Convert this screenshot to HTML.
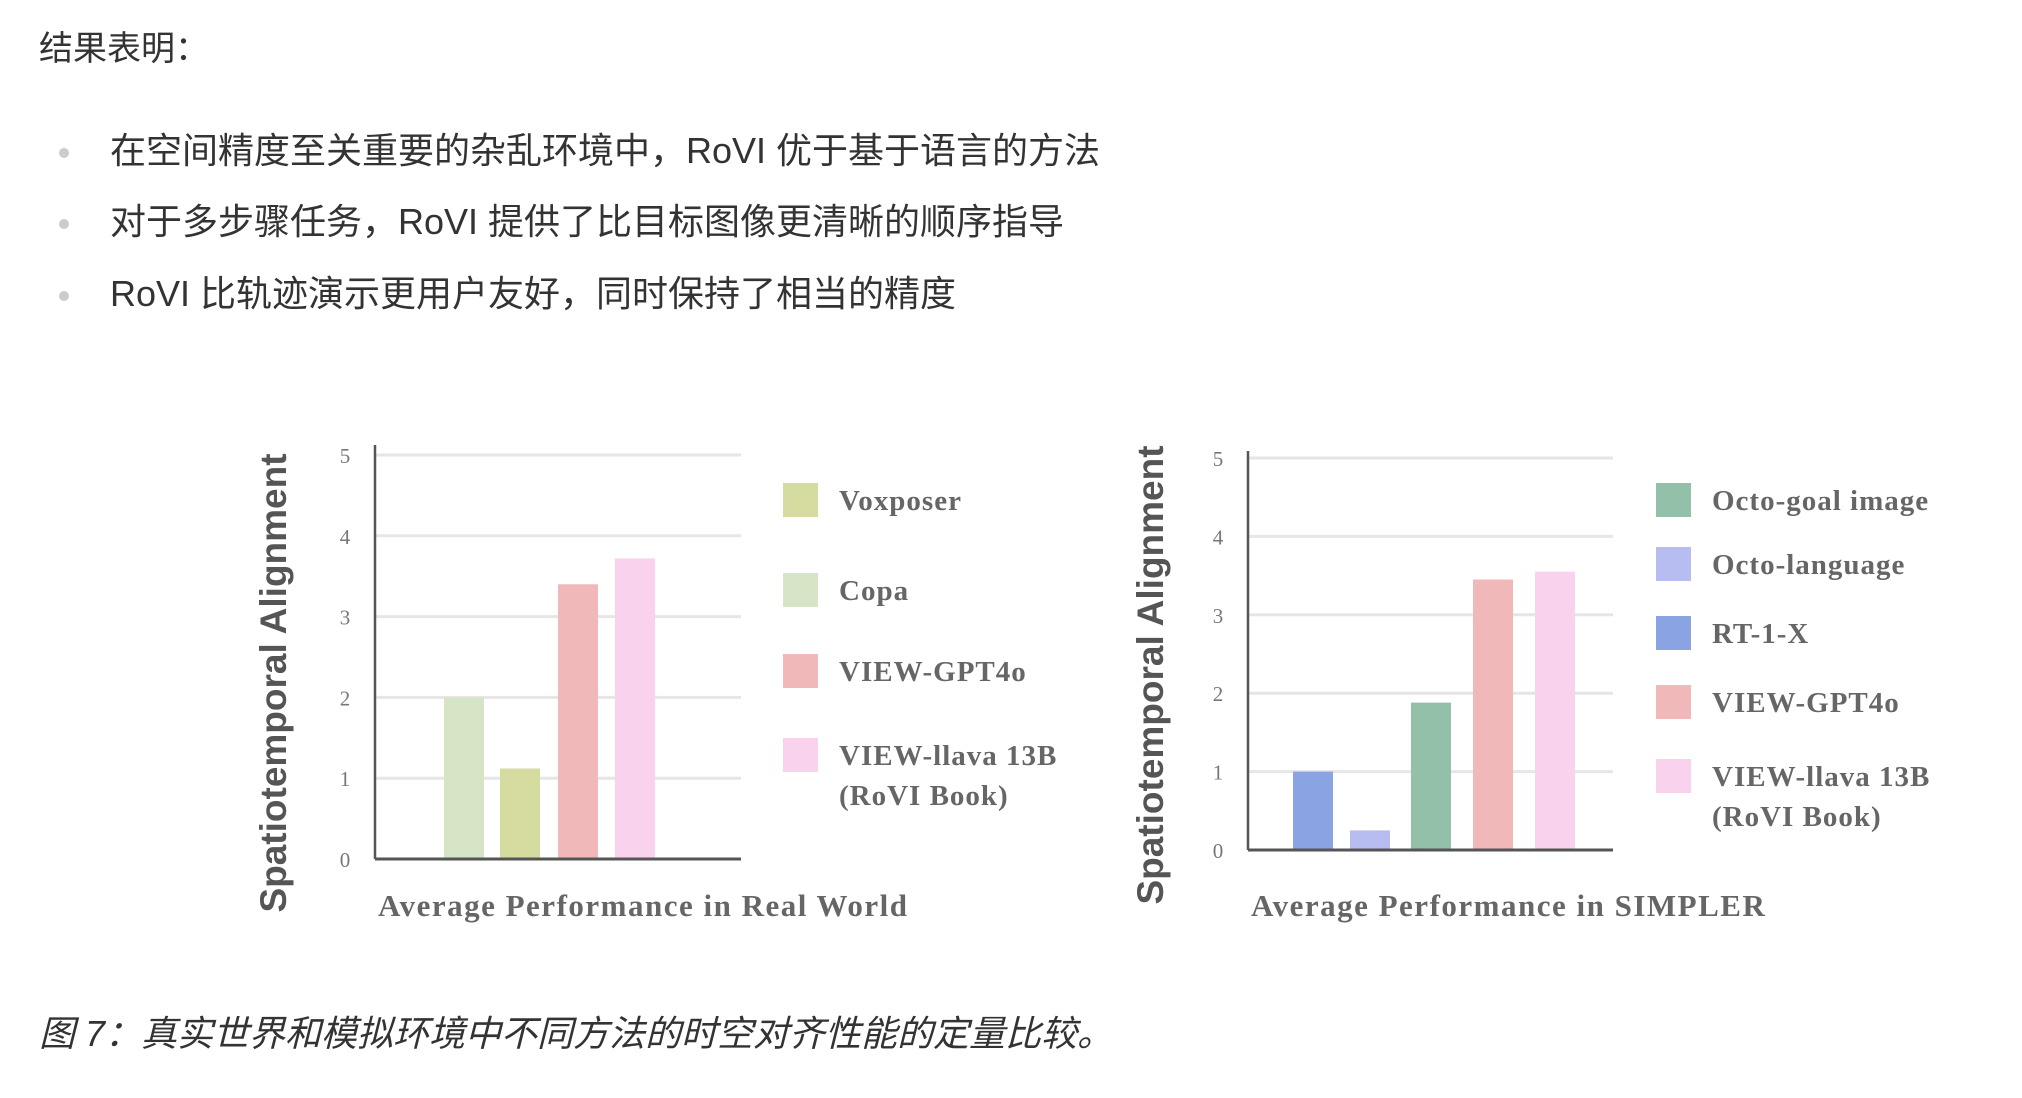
<!DOCTYPE html>
<html><head><meta charset="utf-8"><style>
body{margin:0;width:2022px;height:1098px;background:#fff;overflow:hidden;position:relative;font-family:"Liberation Sans","Noto Sans CJK SC",sans-serif;color:#333}
.t{position:absolute;font-size:36px;white-space:nowrap;line-height:1}
.dot{position:absolute;width:10px;height:10px;border-radius:50%;background:#ccc}
svg{position:absolute;left:0;top:0}
</style></head><body>
<div class="t" style="left:39px;top:32px;font-size:34px">结果表明：</div>
<div class="dot" style="left:59px;top:148px"></div>
<div class="t" style="left:110px;top:133px">在空间精度至关重要的杂乱环境中，RoVI 优于基于语言的方法</div>
<div class="dot" style="left:59px;top:219px"></div>
<div class="t" style="left:110px;top:204px">对于多步骤任务，RoVI 提供了比目标图像更清晰的顺序指导</div>
<div class="dot" style="left:59px;top:291px"></div>
<div class="t" style="left:110px;top:276px">RoVI 比轨迹演示更用户友好，同时保持了相当的精度</div>
<div class="t" style="left:39px;top:1016px;font-style:italic">图 7：真实世界和模拟环境中不同方法的时空对齐性能的定量比较。</div>
<svg id="chart" width="2022" height="1098"></svg>
<script>
const cats1 = ["Copa","Voxposer","VIEW-GPT4o","VIEW-llava 13B"];
const vals1 = [2.0,1.12,3.4,3.72];
const cats2 = ["RT-1-X","Octo-language","Octo-goal image","VIEW-GPT4o","VIEW-llava 13B"];
const vals2 = [1.0,0.25,1.88,3.45,3.55];
const ticks = [0,1,2,3,4,5];
const colors = {"Voxposer":"#d6dba0","Copa":"#d5e5c6","VIEW-GPT4o":"#f0b8b8","VIEW-llava 13B":"#f9d3ee","Octo-goal image":"#93c0a9","Octo-language":"#b7bdf0","RT-1-X":"#8aa3e3"};
const legend1 = ["Voxposer","Copa","VIEW-GPT4o","VIEW-llava 13B"];
const legend2 = ["Octo-goal image","Octo-language","RT-1-X","VIEW-GPT4o","VIEW-llava 13B"];
const svg = document.getElementById('chart');
const NS = "http://www.w3.org/2000/svg";
function mk(tag, attrs, text){const e=document.createElementNS(NS,tag);for(const k in attrs)e.setAttribute(k,attrs[k]);if(text!==undefined)e.textContent=text;svg.appendChild(e);return e;}
function chart(o){
  const y = v => o.y0 - v*(o.y0-o.y5)/5;
  ticks.forEach(t=>{
    if(t>0){const g=mk('line',{x1:o.ax,x2:o.right,y1:y(t),y2:y(t),stroke:'#e6e6e6','stroke-width':3});
    
    }
    const l=mk('text',{x:o.ax-30,y:y(t)+8,'font-size':21,fill:'#777','text-anchor':'middle','font-family':'Liberation Serif, serif'},t);
    
    
  });
  o.cats.forEach((c,i)=>{
    const b=mk('rect',{x:o.bx[i],y:y(o.vals[i]),width:o.bw,height:o.y0-y(o.vals[i]),fill:colors[c]});
    
    
  });
  mk('line',{x1:o.ax,x2:o.ax,y1:o.top,y2:o.y0,stroke:'#555','stroke-width':2.5});
  mk('line',{x1:o.ax,x2:o.right,y1:o.y0,y2:o.y0,stroke:'#555','stroke-width':3});
  const yt=mk('text',{x:0,y:0,transform:`translate(${o.ytx},${o.yty}) rotate(-90)`,'font-size':37,'font-weight':'bold',fill:'#555','text-anchor':'middle'},'Spatiotemporal Alignment');
  
  
  const xt=mk('text',{x:o.ax+3,y:916,'font-size':31,'font-weight':'bold',fill:'#666','font-family':'Liberation Serif, serif','letter-spacing':1.5},o.xtitle);
  
  
  o.legend.forEach((c,i)=>{
    const sy=o.ly[i];
    const s=mk('rect',{x:o.lx,y:sy-17,width:35,height:34,fill:colors[c]});
    
    
    const tx=mk('text',{x:o.lx+56,y:sy+10,'font-size':29,'font-weight':'bold',fill:'#666','font-family':'Liberation Serif, serif','letter-spacing':1},c);
    
    
    if(c==="VIEW-llava 13B"){
      const t2=mk('text',{x:o.lx+56,y:sy+50,'font-size':29,'font-weight':'bold',fill:'#666','font-family':'Liberation Serif, serif','letter-spacing':1},'(RoVI Book)');
      
      
    }
  });
}
chart({cats:cats1,vals:vals1,ax:375,right:741,top:445,y0:859,y5:455,bx:[444,500,558,615],bw:40,ytx:286,yty:683,xtitle:'Average Performance in Real World',legend:legend1,lx:783,ly:[500,590,671,755]});
chart({cats:cats2,vals:vals2,ax:1248,right:1613,top:451,y0:850,y5:458,bx:[1293,1350,1411,1473,1535],bw:40,ytx:1163,yty:675,xtitle:'Average Performance in SIMPLER',legend:legend2,lx:1656,ly:[500,564,633,702,776]});
</script>
</body></html>
